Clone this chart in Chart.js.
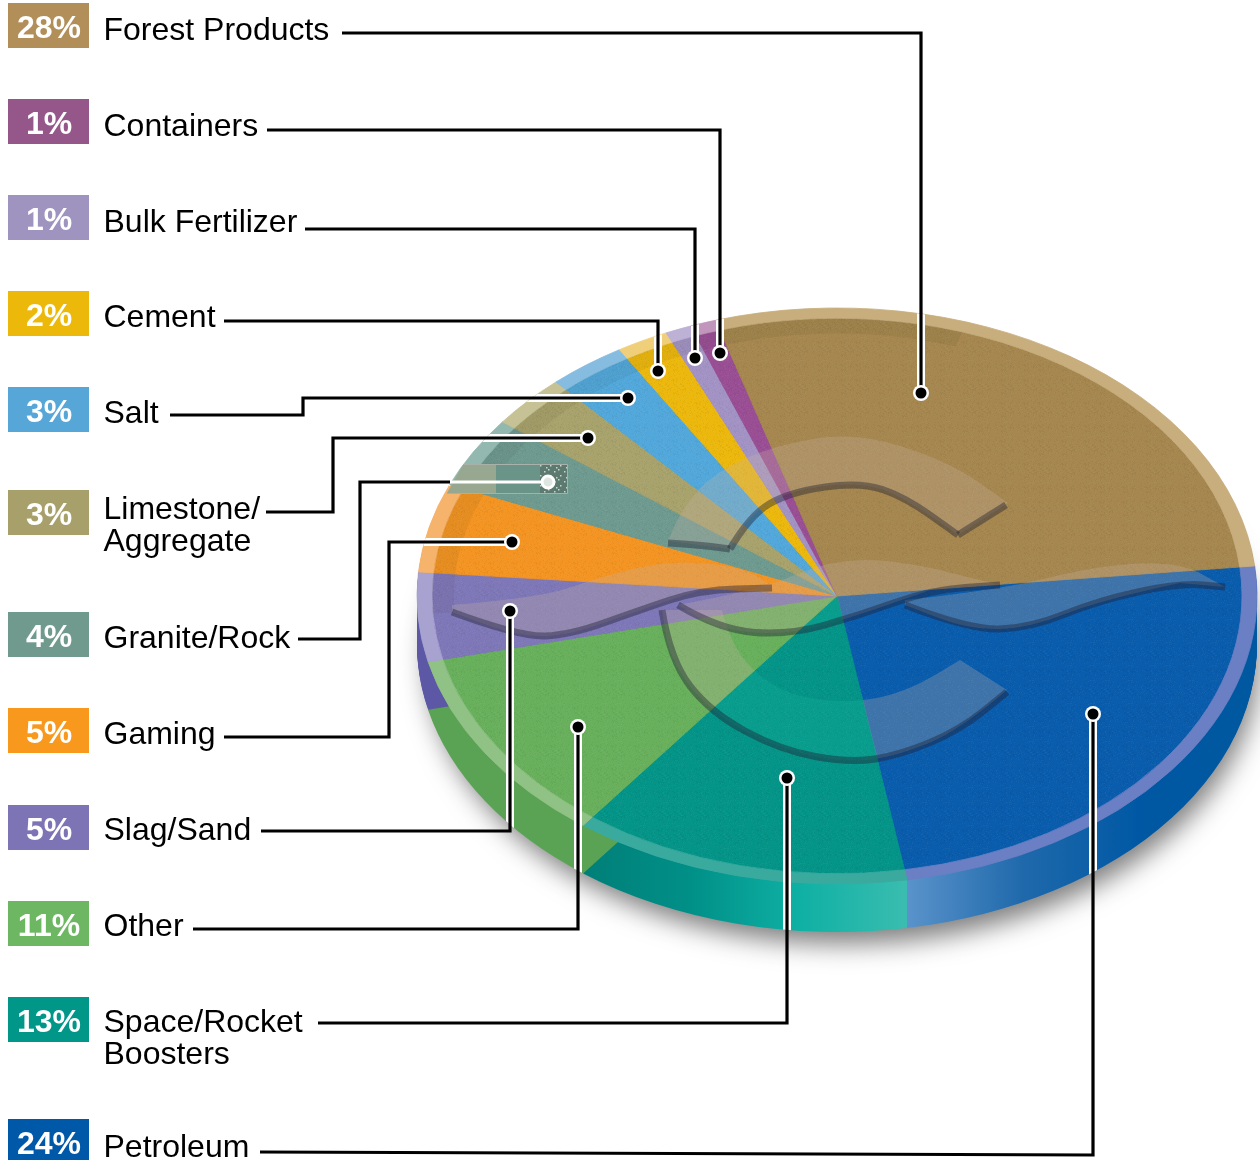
<!DOCTYPE html>
<html>
<head>
<meta charset="utf-8">
<title>Cargo share</title>
<script src="https://cdn.jsdelivr.net/npm/chart.js@4"></script>
<style>
  html, body { margin: 0; padding: 0; background: #fff; overflow: hidden; }
  canvas { display: block; }
</style>
</head>
<body>
<canvas id="chart" width="1260" height="1160"></canvas>
<script>
// values, top to bottom as listed in the key
const categories = ['Forest Products', 'Containers', 'Bulk Fertilizer', 'Cement', 'Salt', 'Limestone/\nAggregate',
    'Granite/Rock', 'Gaming', 'Slag/Sand', 'Other', 'Space/Rocket\nBoosters', 'Petroleum'];
const shares = [28, 1, 1, 2, 3, 3, 4, 5, 5, 11, 13, 24];

// colours, same order
const keyColors = ['#b28f58', '#95578a', '#9f93bf', '#ecb80a', '#56a6d8', '#a8a06a', '#6f9a8d', '#f8981d', '#7d74b5', '#6db662', '#009688', '#0059a8'];
const faceColors = ['#a5874f', '#9a4f95', '#a293c4', '#ecb80e', '#52a8da', '#a8a26c', '#6f9a90', '#f39423', '#7f78b8', '#68b05c', '#059488', '#0a5cac'];
const rimColors = ['#c8ae7d', '#c295bd', '#bdb1d6', '#f0cf7a', '#85bce0', '#c6c296', '#93b8af', '#f6b36c', '#a7a2d0', '#90c185', '#3aaa9f', '#6a7fc4'];
const sideShades = [['#8a7040'], ['#7a3f78'], ['#8276a0'], ['#c09508'], ['#3f88b5'], ['#88824f'], ['#567a72'], ['#c8761a'],
    ['#5d58a5'], ['#5aa355'], ['#007f78', '#009088', '#0fb0a4', '#3abdb0'], ['#5a93cb', '#1f69ab', '#0058a4', '#0058a0']];

// key layout
const keyTops = [3, 99, 195, 291, 387, 490, 612, 708, 805, 901, 997, 1119];
const labelTops = [29, 125, 221, 316, 412, 508, 637, 733, 829, 925, 1021, 1146];

// leader routes from label to slice
const leaderRoutes = [
    [[342, 33], [921, 33], [921, 393]],
    [[267, 130], [720, 130], [720, 353]],
    [[305, 229], [695, 229], [695, 358]],
    [[224, 321], [658, 321], [658, 371]],
    [[170, 415], [303, 415], [303, 398], [628, 398]],
    [[266, 512], [333, 512], [333, 438], [588, 438]],
    [[298, 639], [360, 639], [360, 482], [450, 482]],
    [[224, 737], [389, 737], [389, 542], [512, 542]],
    [[261, 831], [510, 831], [510, 611]],
    [[193, 929], [578, 929], [578, 727]],
    [[318, 1023], [787, 1023], [787, 778]],
    [[260, 1152], [1093, 1155], [1093, 714]]
];

const PIE_RADIUS = 420;
const RIM = 15;
const SQUASH = 288 / 420;
const DEPTH = 48;
const SPACE_INDEX = categories.length - 2;

// the watermark on the pie face, each band is two edges
const bandEdges = [
    [[[668, 541], [680, 510], [715, 472], [775, 445], [857, 432], [950, 462], [1008, 503]],
     [[958, 535], [905, 497], [860, 482], [790, 490], [750, 515], [730, 549]]],
    [[[1007, 690], [960, 730], [900, 755], [850, 763], [780, 750], [710, 712], [670, 660], [662, 610]],
     [[722, 610], [730, 640], [753, 672], [793, 697], [857, 703], [910, 690], [960, 660]]],
    [[[452, 605], [540, 598], [600, 577], [670, 560], [743, 567], [773, 587]],
     [[700, 590], [640, 610], [570, 635], [520, 637], [452, 612]]],
    [[[678, 605], [760, 590], [830, 560], [900, 560], [1000, 585]],
     [[930, 590], [860, 615], [790, 635], [720, 630], [678, 605]]],
    [[[905, 600], [1000, 590], [1100, 565], [1180, 562], [1225, 587]],
     [[1180, 583], [1100, 600], [1030, 628], [970, 630], [905, 605]]]
];
const markLines = [
    [[668, 543], [700, 545], [730, 549]],
    [[730, 549], [750, 515], [790, 492], [860, 482], [905, 497], [958, 535]],
    [[958, 535], [1006, 505]],
    [[662, 610], [670, 660], [710, 712], [780, 750], [850, 763], [900, 755], [960, 730], [1007, 692]],
    [[452, 612], [520, 637], [570, 635], [640, 610], [700, 590], [772, 588]],
    [[678, 605], [720, 630], [790, 635], [860, 615], [930, 590], [1000, 585]],
    [[905, 605], [970, 630], [1030, 628], [1100, 600], [1180, 583], [1225, 587]]
];

function smoothPath(ctx, pts, joined) {
    if (joined) ctx.lineTo(pts[0][0], pts[0][1]);
    else ctx.moveTo(pts[0][0], pts[0][1]);
    for (let i = 1; i < pts.length - 1; i++) {
        const mx = (pts[i][0] + pts[i + 1][0]) / 2;
        const my = (pts[i][1] + pts[i + 1][1]) / 2;
        ctx.quadraticCurveTo(pts[i][0], pts[i][1], mx, my);
    }
    ctx.lineTo(pts[pts.length - 1][0], pts[pts.length - 1][1]);
}

function pieOutline(ctx, x, y) {
    ctx.beginPath();
    ctx.ellipse(x, y, PIE_RADIUS, PIE_RADIUS * SQUASH, 0, 0, Math.PI * 2);
    ctx.closePath();
    ctx.ellipse(x, y + DEPTH, PIE_RADIUS, PIE_RADIUS * SQUASH, 0, 0, Math.PI * 2);
    ctx.closePath();
    ctx.rect(x - PIE_RADIUS, y, PIE_RADIUS * 2, DEPTH);
}

// arcs are listed clockwise from Petroleum, so flip back to key order
const byKey = arr => arr.slice().reverse();

const tiltPlugin = {
    id: 'tilt',
    beforeDatasetsDraw(chart) {
        const ctx = chart.ctx;
        const arcs = chart.getDatasetMeta(0).data;
        const { x, y } = arcs[0];

        // soft shadow under the disc
        ctx.save();
        ctx.shadowColor = 'rgba(40, 40, 40, 0.6)';
        ctx.shadowBlur = 26;
        ctx.shadowOffsetX = 6;
        ctx.shadowOffsetY = 16;
        ctx.fillStyle = '#777';
        ctx.beginPath();
        ctx.ellipse(x, y + DEPTH - 2, PIE_RADIUS - 4, PIE_RADIUS * SQUASH - 2, 0, 0, Math.PI * 2);
        ctx.fill();
        ctx.restore();

        // side wall: the rim arcs repeated downwards
        const shades = byKey(sideShades);
        arcs.forEach((arc, i) => {
            const xs = [Math.cos(arc.startAngle), Math.cos(arc.endAngle)].map(c => c * PIE_RADIUS);
            const grad = ctx.createLinearGradient(Math.min(...xs), 0, Math.max(...xs), 0);
            const list = shades[i];
            list.forEach((c, k) => grad.addColorStop(list.length > 1 ? k / (list.length - 1) : 0, c));
            ctx.fillStyle = grad;
            for (let d = DEPTH; d > 0; d -= 1) {
                ctx.save();
                ctx.translate(x, y + d);
                ctx.scale(1, SQUASH);
                ctx.beginPath();
                ctx.moveTo(0, 0);
                ctx.arc(0, 0, PIE_RADIUS, arc.startAngle, arc.endAngle);
                ctx.closePath();
                ctx.fill();
                ctx.restore();
            }
        });

        ctx.save();
        ctx.translate(x, y);
        ctx.scale(1, SQUASH);
        ctx.translate(-x, -y);
    },
    afterDatasetsDraw(chart) {
        const ctx = chart.ctx;
        const arcs = chart.getDatasetMeta(0).data;
        const { x, y } = arcs[0];

        // darker band inside the rim at the far edge
        ctx.strokeStyle = 'rgba(40, 30, 20, 0.06)';
        ctx.lineWidth = 22;
        ctx.beginPath();
        ctx.arc(x, y, PIE_RADIUS - RIM - 11, Math.PI * 0.98, Math.PI * 1.6);
        ctx.stroke();
        ctx.restore();

        drawGrain(ctx, x, y);
        drawWatermark(ctx, arcs[byKey(categories).length - 1 - SPACE_INDEX]);
        drawKey(ctx);
        drawLeaders(ctx, x, y);
        drawGraniteCallout(ctx);
    }
};

// faint paper grain over the top face
function drawGrain(ctx, x, y) {
    const tile = document.createElement('canvas');
    tile.width = tile.height = 61;
    const t = tile.getContext('2d');
    for (let a = 0; a < 61; a++) {
        for (let b = 0; b < 61; b++) {
            const h = (a * a * 31 + b * b * b * 17 + a * b * 7) % 23;
            if (h < 5) {
                t.fillStyle = h < 2 ? 'rgba(255, 255, 255, 0.045)' : 'rgba(0, 0, 0, 0.04)';
                t.fillRect(a, b, 1, 1);
            }
        }
    }
    ctx.save();
    ctx.fillStyle = ctx.createPattern(tile, 'repeat');
    ctx.beginPath();
    ctx.ellipse(x, y, PIE_RADIUS - RIM, (PIE_RADIUS - RIM) * SQUASH, 0, 0, Math.PI * 2);
    ctx.fill();
    ctx.restore();
}

function wedge(ctx, arc) {
    ctx.moveTo(arc.x, arc.y);
    ctx.ellipse(arc.x, arc.y, PIE_RADIUS, PIE_RADIUS * SQUASH, 0, arc.startAngle, arc.endAngle);
    ctx.closePath();
}

function fillBands(ctx) {
    bandEdges.forEach(edges => {
        ctx.beginPath();
        smoothPath(ctx, edges[0]);
        smoothPath(ctx, edges[1], true);
        ctx.closePath();
        ctx.fill();
    });
}

function drawWatermark(ctx, spaceArc) {
    // the teal slice takes the tint much more weakly than the others
    ctx.save();
    ctx.beginPath();
    ctx.rect(0, 0, 1260, 1160);
    wedge(ctx, spaceArc);
    ctx.clip('evenodd');
    ctx.fillStyle = 'rgba(200, 178, 165, 0.28)';
    fillBands(ctx);
    ctx.restore();

    ctx.save();
    ctx.beginPath();
    wedge(ctx, spaceArc);
    ctx.clip();
    ctx.fillStyle = 'rgba(40, 220, 190, 0.12)';
    fillBands(ctx);
    ctx.restore();

    ctx.save();
    ctx.strokeStyle = 'rgba(30, 30, 50, 0.42)';
    ctx.lineWidth = 7;
    ctx.lineJoin = 'round';
    markLines.forEach(pts => {
        ctx.beginPath();
        smoothPath(ctx, pts);
        ctx.stroke();
    });
    ctx.restore();
}

function drawKey(ctx) {
    ctx.save();
    ctx.textBaseline = 'middle';
    categories.forEach((name, i) => {
        ctx.fillStyle = keyColors[i];
        ctx.fillRect(8, keyTops[i], 81, 45);

        ctx.fillStyle = '#fff';
        ctx.textAlign = 'center';
        ctx.font = 'bold 32px "Liberation Sans"';
        ctx.fillText(shares[i] + '%', 49, keyTops[i] + 26);

        ctx.fillStyle = '#000';
        ctx.textAlign = 'left';
        ctx.font = '32px "Liberation Sans"';
        name.split('\n').forEach((line, k) => {
            ctx.fillText(line, 103.5, labelTops[i] + 2 + k * 32.5);
        });
    });
    ctx.restore();
}

function drawLeaders(ctx, x, y) {
    const trace = pts => {
        ctx.beginPath();
        pts.forEach((p, k) => (k ? ctx.lineTo(p[0], p[1]) : ctx.moveTo(p[0], p[1])));
        ctx.stroke();
    };
    ctx.save();
    ctx.lineJoin = 'miter';

    // white halo only where the line crosses the disc
    ctx.save();
    pieOutline(ctx, x, y);
    ctx.clip();
    ctx.strokeStyle = '#fff';
    ctx.lineWidth = 8;
    leaderRoutes.forEach(trace);
    ctx.restore();

    ctx.strokeStyle = '#000';
    ctx.lineWidth = 3.2;
    leaderRoutes.forEach(trace);

    leaderRoutes.forEach((pts, i) => {
        if (i === 6) return; // granite ends in its own callout
        const end = pts[pts.length - 1];
        ctx.fillStyle = '#fff';
        ctx.beginPath();
        ctx.arc(end[0], end[1], 8, 0, Math.PI * 2);
        ctx.fill();
        ctx.fillStyle = '#000';
        ctx.beginPath();
        ctx.arc(end[0], end[1], 5.5, 0, Math.PI * 2);
        ctx.fill();
    });
    ctx.restore();
}

// grey highlight box round the Granite/Rock marker
function drawGraniteCallout(ctx) {
    ctx.save();
    ctx.fillStyle = '#98a890';
    ctx.beginPath();
    ctx.moveTo(463, 465);
    ctx.lineTo(496, 465);
    ctx.lineTo(496, 493);
    ctx.lineTo(447, 493);
    ctx.closePath();
    ctx.fill();
    ctx.fillStyle = '#6a9488';
    ctx.fillRect(496, 465, 44, 28);
    ctx.fillStyle = '#5c7a70';
    ctx.fillRect(540, 465, 27, 28);
    ctx.fillStyle = '#c8d4cc';
    for (let a = 0; a < 27; a += 2) {
        for (let b = 0; b < 28; b += 2) {
            if ((a * 7 + b * 13 + a * b) % 5 === 0) ctx.fillRect(540 + a, 465 + b, 1.5, 1.5);
        }
    }
    ctx.strokeStyle = '#a9b0aa';
    ctx.lineWidth = 1;
    ctx.beginPath();
    ctx.moveTo(463, 464.5);
    ctx.lineTo(567.5, 464.5);
    ctx.lineTo(567.5, 493.5);
    ctx.lineTo(447, 493.5);
    ctx.stroke();

    ctx.strokeStyle = '#fff';
    ctx.lineWidth = 3;
    ctx.beginPath();
    ctx.moveTo(450, 482);
    ctx.lineTo(542, 482);
    ctx.stroke();
    ctx.fillStyle = '#dfe6e2';
    ctx.beginPath();
    ctx.arc(548, 482, 6, 0, Math.PI * 2);
    ctx.fill();
    ctx.stroke();
    ctx.restore();
}

new Chart(document.getElementById('chart'), {
    type: 'pie',
    data: {
        labels: byKey(categories),
        datasets: [
            {
                data: byKey(shares),
                backgroundColor: byKey(rimColors),
                borderColor: byKey(rimColors),
                weight: RIM
            },
            {
                data: byKey(shares),
                backgroundColor: byKey(faceColors),
                borderColor: byKey(faceColors),
                weight: PIE_RADIUS - RIM
            }
        ]
    },
    options: {
        responsive: false,
        animation: false,
        rotation: 84,
        radius: PIE_RADIUS,
        clip: false,
        borderWidth: 1,
        layout: { padding: { left: 414, top: 32 } },
        plugins: {
            legend: { display: false },
            tooltip: { enabled: false }
        }
    },
    plugins: [tiltPlugin]
});
</script>
</body>
</html>
